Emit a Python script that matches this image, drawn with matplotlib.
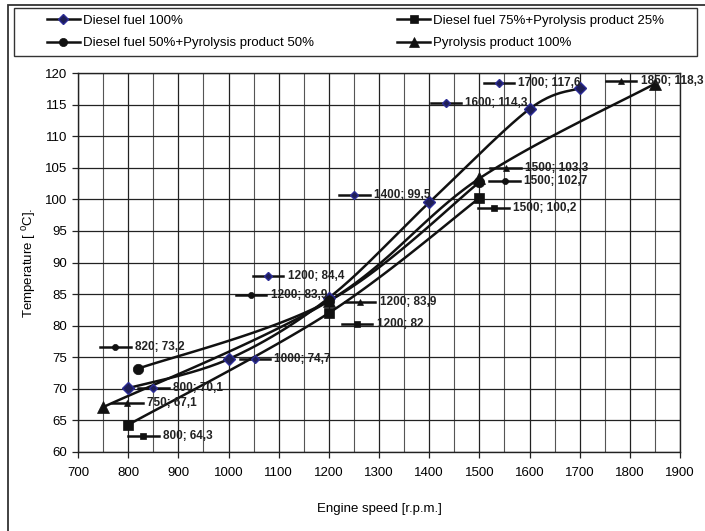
import numpy as np
import matplotlib
matplotlib.use("Agg")
import matplotlib.pyplot as plt
from matplotlib.lines import Line2D
from matplotlib.patches import Rectangle
from matplotlib.offsetbox import DrawingArea, TextArea, HPacker, AnnotationBbox

plt.rcParams['font.family'] = ['Liberation Sans', 'DejaVu Sans']
plt.rcParams['mathtext.fontset'] = 'custom'
plt.rcParams['mathtext.rm'] = 'Liberation Sans'

# measured exhaust temperature vs engine speed
series_names = ["Diesel fuel 100%",
                "Diesel fuel 75%+Pyrolysis product 25%",
                "Diesel fuel 50%+Pyrolysis product 50%",
                "Pyrolysis product 100%"]

rpm_d100 = [800, 1000, 1200, 1400, 1600, 1700]
temp_d100 = [70.1, 74.7, 84.4, 99.5, 114.3, 117.6]

rpm_d75 = [800, 1200, 1500]
temp_d75 = [64.3, 82.0, 100.2]

rpm_d50 = [820, 1200, 1500]
temp_d50 = [73.2, 83.9, 102.7]

rpm_p100 = [750, 1200, 1500, 1850]
temp_p100 = [67.1, 83.9, 103.3, 118.3]

# where each data label sits, pixel offset (right, down) of its key from the point
offs_d100 = [(10, 0), (11, 0), (-76, -22), (-90, -7), (-99, -6), (-96, -5)]
offs_d75 = [(0, 11), (13, 11), (-1, 10)]
offs_d50 = [(-38, -22), (-93, -6), (10, -1)]
offs_p100 = [(9, -4), (16, 1), (11, -10), (-49, -3)]

NAVY_FACE = '#1e1e55'
NAVY_EDGE = '#2c2c96'

styles = [
    dict(marker='D', ms=6.0, mfc=NAVY_FACE, mec=NAVY_EDGE, mew=1.0, kms=3.6),
    dict(marker='s', ms=7.0, mfc='#111111', mec='#111111', mew=0.5, kms=4.2),
    dict(marker='o', ms=7.5, mfc='#111111', mec='#111111', mew=0.5, kms=4.4),
    dict(marker='^', ms=8.0, mfc='#111111', mec='#111111', mew=0.5, kms=5.0),
]


def smooth(xs, ys, n=40, sx=0.5, sy=6.3):
    """Catmull-Rom style bezier smoothing, done in roughly screen-scaled space."""
    P = np.column_stack([np.asarray(xs, float) * sx, np.asarray(ys, float) * sy])
    out = [P[0]]
    t = np.linspace(0, 1, n)[1:, None]
    for i in range(len(P) - 1):
        p0 = P[i - 1] if i > 0 else P[i]
        p1, p2 = P[i], P[i + 1]
        p3 = P[i + 2] if i + 2 < len(P) else P[i + 1]
        c1 = p1 + (p2 - p0) / 6
        c2 = p2 - (p3 - p1) / 6
        seg = (1 - t) ** 3 * p1 + 3 * (1 - t) ** 2 * t * c1 + 3 * (1 - t) * t ** 2 * c2 + t ** 3 * p2
        out.extend(seg)
    out = np.array(out)
    return out[:, 0] / sx, out[:, 1] / sy


W, H = 705, 531
fig = plt.figure(figsize=(W / 100, H / 100), dpi=100)
ax = fig.add_axes([78 / W, 1 - 452 / H, 602 / W, 379 / H])

ax.set_xlim(700, 1900)
ax.set_ylim(60, 120)
ax.set_xticks(np.arange(700, 1901, 100))
ax.set_xticks(np.arange(750, 1900, 100), minor=True)
ax.set_yticks(np.arange(60, 121, 5))
ax.grid(True, which='major', color='#222222', lw=0.9)
ax.grid(True, which='minor', axis='x', color='#555555', lw=0.8)
ax.tick_params(axis='both', which='major', labelsize=9.5, direction='out', length=4, width=0.9,
               color='#222222', pad=4)
ax.tick_params(axis='x', which='minor', length=0)
ax.tick_params(axis='x', pad=7)
for sp in ax.spines.values():
    sp.set_color('#222222')
    sp.set_linewidth(1.0)
ax.set_axisbelow(True)

ax.set_xlabel('Engine speed [r.p.m.]', fontsize=9.5, labelpad=17)
ax.set_ylabel('Temperature [ $^{0}$C].', fontsize=9.5, labelpad=5)

all_x = [rpm_d100, rpm_d75, rpm_d50, rpm_p100]
all_y = [temp_d100, temp_d75, temp_d50, temp_p100]
all_offs = [offs_d100, offs_d75, offs_d50, offs_p100]

for xs, ys, st in zip(all_x, all_y, styles):
    sxs, sys_ = smooth(xs, ys)
    ax.plot(sxs, sys_, color='#111111', lw=1.8, zorder=3, solid_capstyle='round')
    ax.plot(xs, ys, ls='none', marker=st['marker'], ms=st['ms'], mfc=st['mfc'],
            mec=st['mec'], mew=st['mew'], zorder=4)

# data labels with a small series key in front, Excel style
KEY_W = 22  # points
for xs, ys, offs, st in zip(all_x, all_y, all_offs, styles):
    for x, y, (dx, dy) in zip(xs, ys, offs):
        da = DrawingArea(KEY_W, 6, 0, 0)
        da.add_artist(Line2D([0, KEY_W], [3, 3], color='#111111', lw=1.8))
        da.add_artist(Line2D([KEY_W / 2], [3], ls='none', marker=st['marker'], ms=st['kms'],
                             mfc=st['mfc'], mec=st['mec'], mew=st['mew']))
        txt = TextArea(f"{x}; {y:g}".replace('.', ','),
                       textprops=dict(fontsize=8.5, fontweight='bold', color='#222222'))
        box = HPacker(children=[da, txt], align='center', pad=0, sep=3)
        ab = AnnotationBbox(box, (x, y), xybox=(dx, -dy), xycoords='data',
                            boxcoords='offset pixels', box_alignment=(0, 0.5),
                            frameon=False, pad=0, zorder=5)
        ax.add_artist(ab)

# legend across the top
handles = [Line2D([], [], color='#111111', lw=1.8, marker=st['marker'], ms=st['kms'] + 1.5,
                  mfc=st['mfc'], mec=st['mec'], mew=st['mew']) for st in styles]
order = [0, 2, 1, 3]
fig.legend([handles[i] for i in order], [series_names[i] for i in order],
           ncol=2, mode='expand', loc='center', frameon=False, fontsize=9.5,
           bbox_to_anchor=(14 / W, 1 - 56 / H, 683 / W, 48 / H),
           borderaxespad=0, borderpad=2.5, handlelength=2.5, handletextpad=0.2,
           labelspacing=0.75)
fig.add_artist(Rectangle((14 / W, 1 - 56 / H), 683 / W, 48 / H, transform=fig.transFigure,
                         fill=False, ec='#333333', lw=1.0))

# outer chart frame
fig.add_artist(Rectangle((8 / W, -0.05), 1.1, 1 - 5 / H + 0.05, transform=fig.transFigure,
                         fill=False, ec='#333333', lw=1.3, clip_on=False))

fig.savefig('out.png', dpi=100)
